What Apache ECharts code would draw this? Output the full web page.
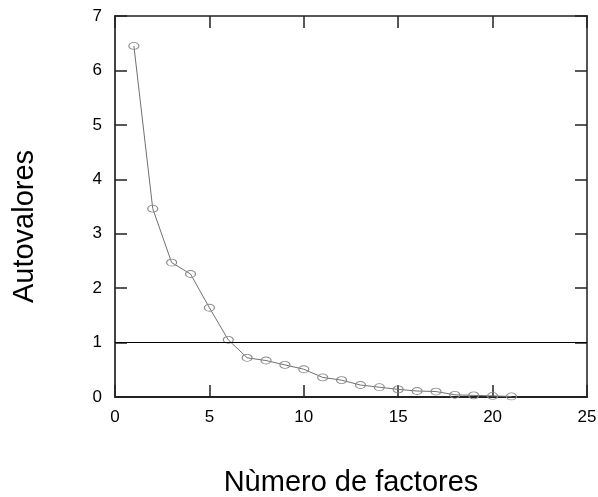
<!DOCTYPE html>
<html>
<head>
<meta charset="utf-8">
<script src="https://cdn.jsdelivr.net/npm/echarts@6/dist/echarts.min.js"></script>
<style>
  html, body { margin: 0; padding: 0; background: #fff; }
  #chart { width: 598px; height: 497px; }
</style>
</head>
<body>
<div id="chart"></div>
<script>
// Scree plot: eigenvalue per factor number
const factores = [1, 2, 3, 4, 5, 6, 7, 8, 9, 10, 11, 12, 13, 14, 15, 16, 17, 18, 19, 20, 21];
const autovalores = [6.45, 3.46, 2.47, 2.26, 1.64, 1.05, 0.72, 0.67, 0.59, 0.51, 0.36, 0.31,
                     0.22, 0.18, 0.14, 0.11, 0.10, 0.04, 0.03, 0.02, 0.01];
const umbral = 1; // Kaiser criterion line

const font = 'Liberation Sans, Arial, sans-serif';
const axisColor = '#222';

const chart = echarts.init(document.getElementById('chart'), null, { renderer: 'canvas' });

const tickStyle = { show: true, inside: true, length: 12, lineStyle: { color: axisColor, width: 1.5 } };

chart.setOption({
  backgroundColor: '#fff',
  animation: false,
  grid: { left: 115, right: 11, top: 16, bottom: 100, outerBoundsMode: 'none', containLabel: false },
  xAxis: [{
    type: 'value', min: 0, max: 25, interval: 5,
    name: 'Nùmero de factores', nameLocation: 'middle', nameGap: 71,
    nameTextStyle: { fontFamily: font, fontSize: 29, color: '#000' },
    axisLine: { show: true, onZero: false, lineStyle: { color: axisColor, width: 2 } },
    axisTick: tickStyle,
    axisLabel: { fontFamily: font, fontSize: 17, color: '#000', margin: 12 },
    splitLine: { show: false }
  }, {
    type: 'value', position: 'top', min: 0, max: 25, interval: 5,
    axisLine: { show: true, onZero: false, lineStyle: { color: axisColor, width: 1.5 } },
    axisTick: tickStyle,
    axisLabel: { show: false },
    splitLine: { show: false }
  }],
  yAxis: [{
    type: 'value', min: 0, max: 7, interval: 1,
    name: 'Autovalores', nameLocation: 'middle', nameGap: 76,
    nameTextStyle: { fontFamily: font, fontSize: 29, color: '#000', padding: [0, 40, 0, 0] },
    axisLine: { show: true, onZero: false, lineStyle: { color: '#444', width: 2 } },
    axisTick: tickStyle,
    axisLabel: { fontFamily: font, fontSize: 17, color: '#000', margin: 13 },
    splitLine: { show: false }
  }, {
    type: 'value', position: 'right', min: 0, max: 7, interval: 1,
    axisLine: { show: true, onZero: false, lineStyle: { color: '#555', width: 2 } },
    axisTick: tickStyle,
    axisLabel: { show: false },
    splitLine: { show: false }
  }],
  series: [{
    type: 'line',
    data: factores.map((f, i) => [f, autovalores[i]]),
    symbol: 'circle',
    symbolSize: [10, 7],
    showAllSymbol: true,
    lineStyle: { color: '#707070', width: 1 },
    itemStyle: { color: 'rgba(0,0,0,0)', borderColor: '#8a8a8a', borderWidth: 1 },
    markLine: {
      silent: true,
      symbol: 'none',
      label: { show: false },
      lineStyle: { color: '#000', width: 1, type: 'solid' },
      data: [{ yAxis: umbral }]
    },
    z: 3
  }]
});
</script>
</body>
</html>
